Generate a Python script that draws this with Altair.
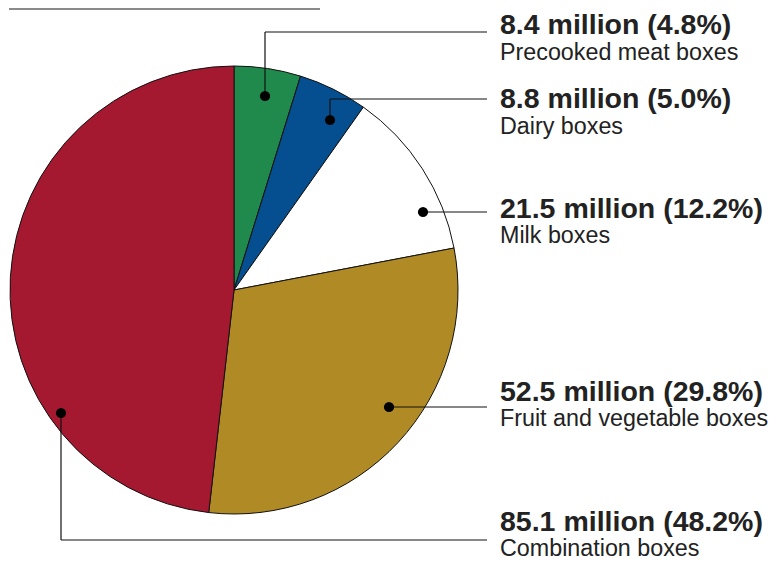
import altair as alt
import pandas as pd
import math

# ---- data ----
categories = ["Precooked meat boxes", "Dairy boxes", "Milk boxes",
              "Fruit and vegetable boxes", "Combination boxes"]
millions = [8.4, 8.8, 21.5, 52.5, 85.1]
shares = [4.8, 5.0, 12.2, 29.8, 48.2]
colors = ["#1F8A4C", "#054F91", "#FFFFFF", "#B08A24", "#A51930"]

# ---- annotation layout (page pixel coordinates) ----
dot_x = [265, 330, 423, 389, 61]
dot_y = [96, 120, 212, 407, 413]
elbow_y = [32, 99, 212, 407, 540]
line_end_x = 487
label_x = 500
head_y = [34, 108, 218, 401, 531]
sub_y = [60, 134, 243, 426, 556]

PIE_CX, PIE_CY, PIE_R = 234, 290, 224
W, H = 763, 555
X0, Y0 = 8, 8

xs = alt.Scale(domain=[X0, X0 + W], zero=False, nice=False)
ys = alt.Scale(domain=[Y0 + H, Y0], zero=False, nice=False)

# pie table
t0, t1, acc = [], [], 0.0
for s in shares:
    t0.append(acc)
    acc += s
    t1.append(acc)
pie_df = pd.DataFrame({"cat": categories, "t0": t0, "t1": t1,
                       "cx": PIE_CX, "cy": PIE_CY})

pie = alt.Chart(pie_df).mark_arc(radius=PIE_R, stroke="#111111",
                                 strokeWidth=1).encode(
    x=alt.X("cx:Q", scale=xs, axis=None),
    y=alt.Y("cy:Q", scale=ys, axis=None),
    theta=alt.Theta("t0:Q", scale=alt.Scale(domain=[0, 100], range=[0, 2 * math.pi])),
    theta2="t1:Q",
    color=alt.Color("cat:N", scale=alt.Scale(domain=categories, range=colors),
                    legend=None),
)

# leader segments
seg = []
for i in range(len(categories)):
    if dot_y[i] != elbow_y[i]:
        seg.append({"x": dot_x[i], "y": dot_y[i], "x2": dot_x[i], "y2": elbow_y[i]})
    seg.append({"x": dot_x[i], "y": elbow_y[i], "x2": line_end_x, "y2": elbow_y[i]})
seg.append({"x": 9, "y": 9, "x2": 320, "y2": 9, "top": 1})
seg_df = pd.DataFrame(seg).fillna({"top": 0})

rules = alt.Chart(seg_df[seg_df.top == 0]).mark_rule(color="#111111",
                                                     strokeWidth=1.2).encode(
    x=alt.X("x:Q", scale=xs), y=alt.Y("y:Q", scale=ys),
    x2="x2:Q", y2="y2:Q")
top_rule = alt.Chart(seg_df[seg_df.top == 1]).mark_rule(color="#8a8a8a",
                                                        strokeWidth=2).encode(
    x=alt.X("x:Q", scale=xs), y=alt.Y("y:Q", scale=ys),
    x2="x2:Q", y2="y2:Q")

dots_df = pd.DataFrame({"x": dot_x, "y": dot_y})
dots = alt.Chart(dots_df).mark_circle(size=105, color="#000000", opacity=1).encode(
    x=alt.X("x:Q", scale=xs), y=alt.Y("y:Q", scale=ys))

lab_df = pd.DataFrame({
    "head": [f"{m} million ({s}%)" for m, s in zip(millions, shares)],
    "sub": categories,
    "x": label_x, "hy": head_y, "sy": sub_y,
})
heads = alt.Chart(lab_df).mark_text(align="left", baseline="alphabetic",
                                    font="Liberation Sans", fontSize=28.5,
                                    fontWeight="bold", color="#222222").encode(
    x=alt.X("x:Q", scale=xs), y=alt.Y("hy:Q", scale=ys), text="head:N")
subs = alt.Chart(lab_df).mark_text(align="left", baseline="alphabetic",
                                   font="Liberation Sans", fontSize=23.3,
                                   color="#222222").encode(
    x=alt.X("x:Q", scale=xs), y=alt.Y("sy:Q", scale=ys), text="sub:N")

chart = alt.layer(pie, rules, top_rule, dots, heads, subs).properties(
    width=W, height=H,
    autosize=alt.AutoSizeParams(type="none"),
    padding=0,
).configure_view(stroke=None).configure_axis(disable=True)

chart.save("out.html", embed_options={"renderer": "svg", "actions": False})
